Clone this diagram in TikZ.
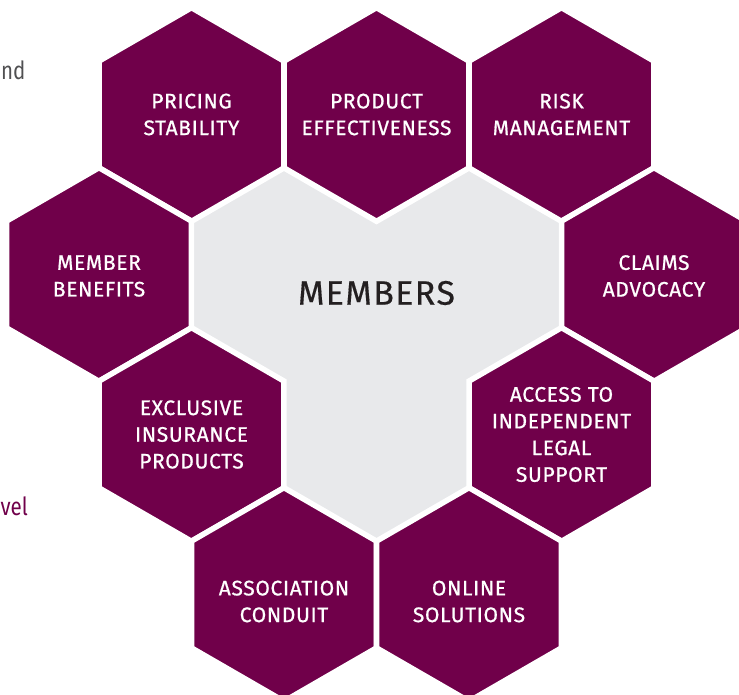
\documentclass[tikz,border=0pt]{standalone}
\usepackage{fontspec}
\setmainfont{Fira Sans}
\newfontfamily\hexfont[LetterSpace=3, FakeBold=0.8]{Fira Sans}
\newfontfamily\midfont[LetterSpace=4, FakeBold=0.4]{Fira Sans}
\usepackage{xcolor}
\usetikzlibrary{shapes.geometric}
\definecolor{hexPurple}{RGB}{112,0,74}
\definecolor{hexGray}{RGB}{232,233,235}
\definecolor{hexDark}{RGB}{35,31,32}
\definecolor{pageGray}{RGB}{80,80,82}
\newcommand{\hexR}{106.8pt}
\tikzset{
	hexcell/.style={regular polygon, regular polygon sides=6, shape border rotate=30,
		minimum size=2*\hexR, inner sep=0pt, outer sep=0pt},
	hexpurple/.style={hexcell, fill=hexPurple, draw=white, line width=5.5pt},
	hexgray/.style={hexcell, fill=hexGray, draw=hexGray, line width=1pt},
	hextext/.style={text=white, align=center, inner sep=0pt,
		font=\hexfont\fontsize{21}{26.7}\selectfont},
	pagetext/.style={inner sep=0pt, xscale=0.82, font=\fontsize{25}{30}\selectfont}
}

\begin{document}
\begin{tikzpicture}[x=1pt, y=-1pt]
	\useasboundingbox (0,0) rectangle (739,695);

	% centre
	\node[hexgray] (midL) at (284,274.5) {};
	\node[hexgray] (midR) at (469,274.5) {};
	\node[hexgray] (midB) at (376.5,434.5) {};

	% ring
	\node[hexpurple] (pricing) at (191.5,114.5) {};
	\node[hexpurple] (product) at (376.5,114.5) {};
	\node[hexpurple] (risk) at (561.5,114.5) {};
	\node[hexpurple] (benefits) at (99,274.5) {};
	\node[hexpurple] (claims) at (654,274.5) {};
	\node[hexpurple] (exclusive) at (191.5,434.5) {};
	\node[hexpurple] (access) at (561.5,434.5) {};
	\node[hexpurple] (conduit) at (284,594.5) {};
	\node[hexpurple] (online) at (469,594.5) {};

	\node[hextext] (pricingT) at (pricing) {PRICING\\STABILITY};
	\node[hextext] (productT) at (product) {PRODUCT\\EFFECTIVENESS};
	\node[hextext] (riskT) at (risk) {RISK\\MANAGEMENT};
	\node[hextext] (benefitsT) at ([yshift=-1.5pt]benefits) {MEMBER\\BENEFITS};
	\node[hextext] (claimsT) at ([yshift=-1.5pt]claims) {CLAIMS\\ADVOCACY};
	\node[hextext] (exclusiveT) at (exclusive) {EXCLUSIVE\\INSURANCE\\PRODUCTS};
	\node[hextext] (accessT) at (access) {ACCESS TO\\INDEPENDENT\\LEGAL\\SUPPORT};
	\node[hextext] (conduitT) at ([yshift=-7pt]conduit) {ASSOCIATION\\CONDUIT};
	\node[hextext] (onlineT) at ([yshift=-7pt]online) {ONLINE\\SOLUTIONS};

	\node[text=hexDark, inner sep=0pt, font=\midfont\fontsize{34}{40}\selectfont] (members) at (376.5,293) {MEMBERS};

	% page text cut off at the left
	\node[pagetext, text=pageGray, anchor=base west] (pageA) at (1,80) {nd};
	\node[pagetext, text=hexPurple, anchor=base west] (pageB) at (0.5,515) {vel};
\end{tikzpicture}
\end{document}
